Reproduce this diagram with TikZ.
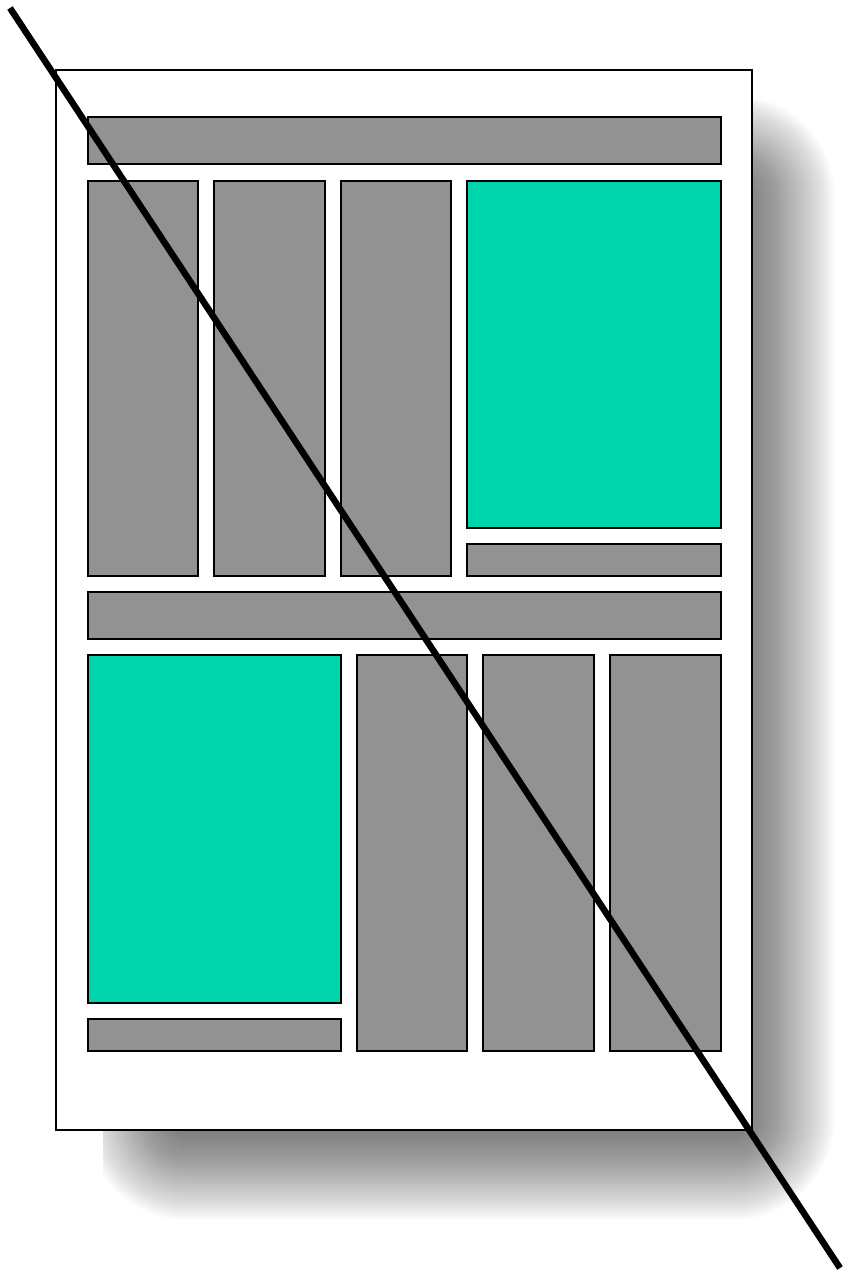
\documentclass[tikz,border=0pt]{standalone}
\usepackage{xcolor}
\usepackage{tikz}
\definecolor{C0}{RGB}{146,146,146}
\definecolor{C1}{RGB}{  0,212,170}

\tikzset{
  textblock/.style={draw=black, line width=1.3pt, fill=C0},
  figblock/.style={draw=black, line width=1.3pt, fill=C1}
}

\begin{document}
\begin{tikzpicture}[x=1pt, y=-1pt]

    \useasboundingbox (0,0) rectangle (843,1274);

    %% --- Shadow (blurred, clipped) ---
    \begin{scope}
        \clip (103,100) rectangle (835,1240);
        \foreach \d [evaluate=\d as \r using {\d+52}] in {-50,-48,...,50} {
            \fill[black, fill opacity=0.0152, rounded corners=\r pt]
                ({135-\d},{145-\d}) rectangle ({785+\d},{1170+\d});
        }
    \end{scope}

    %% --- Page ---
    \draw[fill=white, line width=1.2pt] (56,70) rectangle (752,1130);

    %% --- Upper half ---
    \draw[textblock] (88,117) rectangle (721,164);
    \draw[textblock] (88,181) rectangle (198,576);
    \draw[textblock] (214,181) rectangle (325,576);
    \draw[textblock] (341,181) rectangle (451,576);
    \draw[figblock] (467,181) rectangle (721,528);
    \draw[textblock] (467,544) rectangle (721,576);

    %% --- Lower half ---
    \draw[textblock] (88,592) rectangle (721,639);
    \draw[figblock] (88,655) rectangle (341,1003);
    \draw[textblock] (88,1019) rectangle (341,1051);
    \draw[textblock] (357,655) rectangle (467,1051);
    \draw[textblock] (483,655) rectangle (594,1051);
    \draw[textblock] (610,655) rectangle (721,1051);

    %% Strike-through
    \coordinate (S) at (10,8);
    \coordinate (E) at (840,1268);
    \draw[black, line width=6.5pt] (S) -- (E);

\end{tikzpicture}
\end{document}
